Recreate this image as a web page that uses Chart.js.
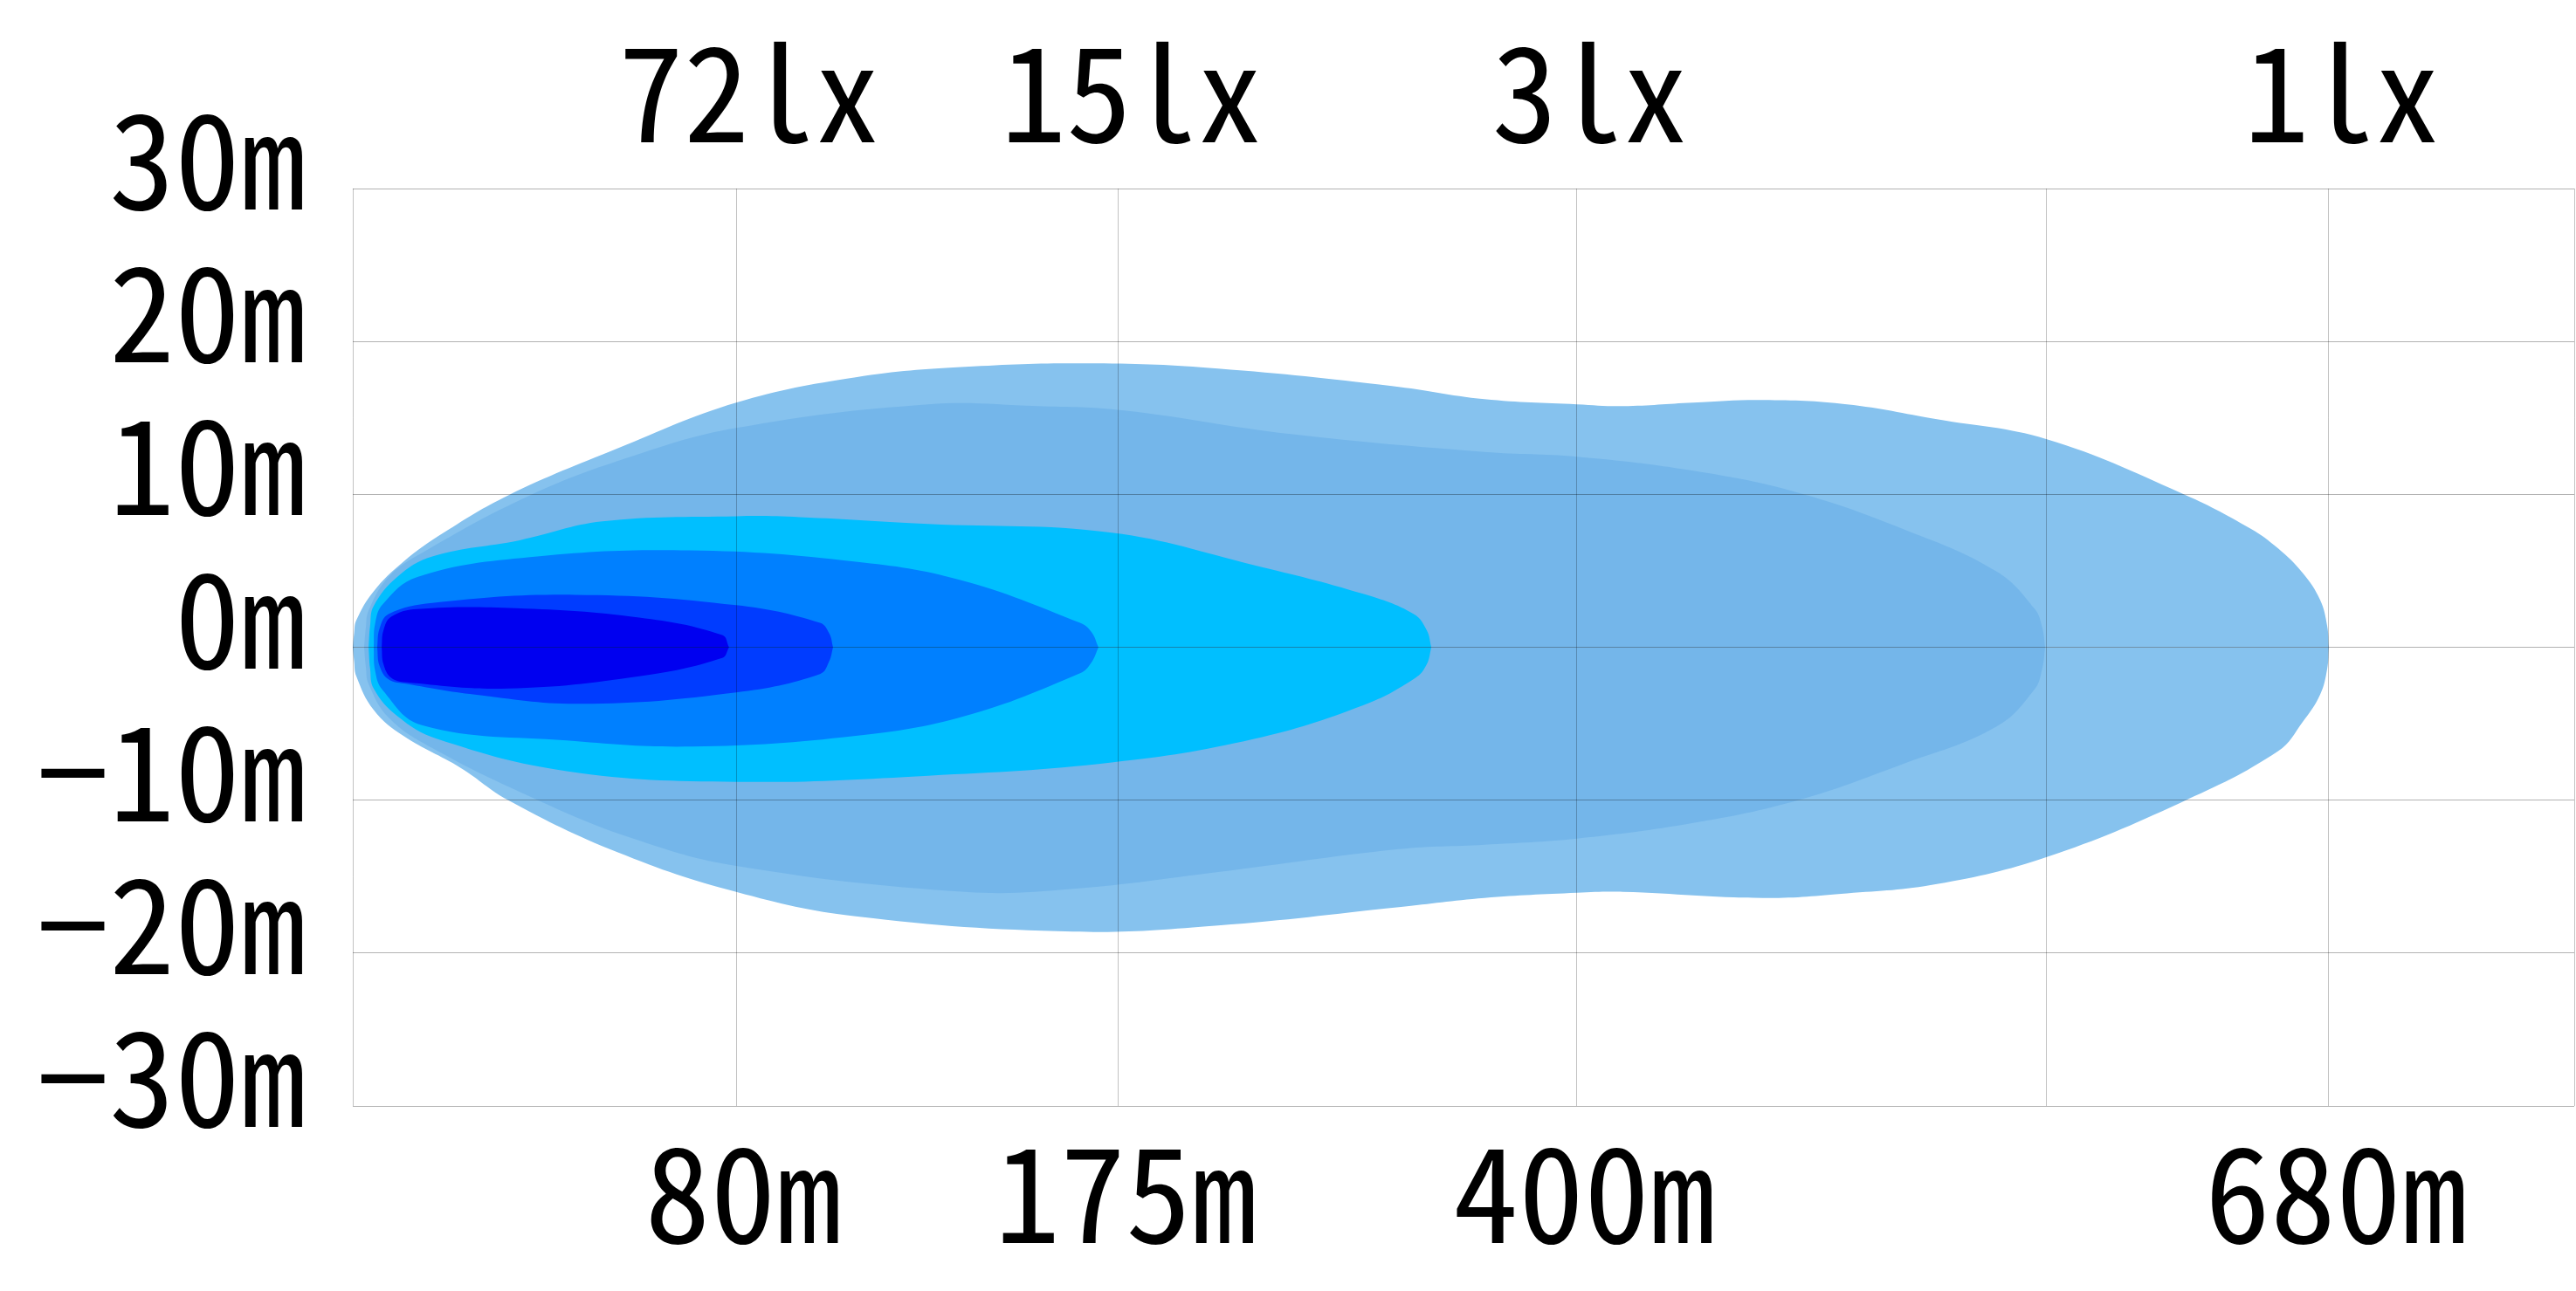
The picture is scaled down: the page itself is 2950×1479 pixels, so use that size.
<!DOCTYPE html>
<html>
<head>
<meta charset="utf-8">
<title>Beam pattern</title>
<script src="https://cdn.jsdelivr.net/npm/chart.js@4.4.1/dist/chart.umd.min.js"></script>
<style>
    html, body { margin: 0; padding: 0; background: #fff; }
    #beam-chart { display: block; }
</style>
</head>
<body>
<canvas id="beam-chart" width="2950" height="1479"></canvas>
<script>
// AXIS TICKS - x IS THE RELATIVE POSITION ACROSS THE PLOT (0-100), y IN METRES
var xTickValues = [0, 17.26, 34.47, 55.11, 76.22, 88.95, 100];
var distanceLabels = ['', '80m', '175m', '400m', '', '680m', ''];
var luxLabels = ['', '72lx', '15lx', '3lx', '', '1lx', ''];
var yTickValues = [-30, -20, -10, 0, 10, 20, 30];
var yTickLabels = ['−30m', '−20m', '−10m', '0m', '10m', '20m', '30m'];

// BEAM CONTOURS, [x, metres] - UPPER AND LOWER EDGE OF EACH ONE, OUTERMOST FIRST
var outerTop = [[0, 0], [0.06, 0.9], [0.16, 1.77], [0.94, 3.66], [2.28, 5.6], [4.09, 7.49], [7.0, 9.94], [11.91, 13.0], [17.26, 16.0], [22.64, 17.66], [27.56, 18.34], [33.41, 18.57], [38.95, 18.23], [46.78, 17.09], [50.94, 16.23], [55.11, 15.89], [57.19, 15.77], [60.34, 16.0], [63.48, 16.17], [67.26, 15.89], [71.31, 14.91], [76.26, 13.6], [82.27, 10.11], [85.42, 7.77], [86.67, 6.46], [87.77, 4.86], [88.56, 3.09], [88.88, 1.37], [88.95, 0]];
var outerBottom = [[0, 0], [0.06, -0.9], [0.16, -1.9], [0.94, -4.1], [2.28, -5.8], [4.87, -7.9], [7.0, -10.0], [11.91, -13.4], [17.26, -16.0], [22.64, -17.6], [32.43, -18.6], [38.95, -18.2], [47.09, -17.0], [50.94, -16.4], [55.11, -16.06], [57.19, -16.0], [63.48, -16.4], [67.26, -16.1], [71.31, -15.49], [76.26, -13.71], [82.27, -10.17], [86.67, -6.8], [87.77, -4.9], [88.56, -3.1], [88.88, -1.4], [88.95, 0]];

var secondTop = [[0.51, 0], [0.59, 1.3], [0.71, 2.4], [1.61, 4.6], [3.11, 6.17], [7.98, 9.94], [12.6, 12.5], [17.26, 14.34], [25.9, 15.89], [30.82, 15.77], [34.71, 15.49], [42.22, 13.94], [50.94, 12.77], [55.11, 12.46], [60.34, 11.54], [65.06, 10.11], [69.73, 7.77], [73.98, 4.97], [75.71, 2.51], [76.05, 1.3], [76.18, 0]];
var secondBottom = [[0.51, 0], [0.59, -1.3], [0.71, -2.4], [1.61, -4.6], [3.58, -6.6], [8.33, -10.0], [12.6, -12.5], [17.26, -14.3], [27.56, -16.0], [32.43, -15.8], [38.95, -14.7], [47.09, -13.2], [50.94, -12.91], [55.11, -12.51], [60.34, -11.49], [65.06, -10.0], [69.73, -7.66], [73.98, -5.2], [75.71, -2.74], [76.05, -1.4], [76.18, 0]];

var cyanTop = [[0.71, 0], [0.78, 1.4], [0.94, 2.7], [2.0, 4.6], [3.58, 5.94], [7.51, 7.0], [11.24, 8.23], [17.26, 8.57], [20.13, 8.51], [25.9, 8.06], [34.16, 7.49], [40.57, 5.37], [45.48, 3.49], [47.76, 2.17], [48.35, 1.1], [48.55, 0]];
var cyanBottom = [[0.71, 0], [0.78, -1.4], [0.94, -2.7], [2.0, -4.5], [3.8, -6.0], [9.63, -8.1], [17.26, -8.8], [25.9, -8.4], [34.16, -7.54], [40.57, -6.0], [45.48, -3.8], [47.84, -2.0], [48.35, -1.1], [48.55, 0]];

var midTop = [[0.94, 0], [1.0, 1.5], [1.34, 2.8], [2.91, 4.6], [7.98, 5.9], [15.17, 6.34], [22.64, 5.6], [27.35, 4.4], [32.74, 1.6], [33.25, 1.0], [33.57, 0]];
var midBottom = [[0.94, 0], [1.0, -1.5], [1.34, -2.8], [3.11, -5.1], [9.63, -6.1], [15.3, -6.5], [22.64, -5.8], [27.56, -4.5], [32.74, -1.7], [33.25, -1.0], [33.57, 0]];

var innerTop = [[1.1, 0], [1.2, 1.2], [1.61, 2.17], [3.58, 2.9], [10.0, 3.43], [17.26, 2.75], [21.03, 1.6], [21.45, 0.9], [21.62, 0]];
var innerBottom = [[1.1, 0], [1.2, -1.2], [1.61, -2.1], [2.44, -2.4], [5.5, -3.1], [10.26, -3.7], [17.26, -2.95], [21.03, -1.75], [21.45, -0.9], [21.62, 0]];

var coreTop = [[1.3, 0], [1.38, 1.1], [1.73, 2.0], [2.91, 2.5], [7.35, 2.55], [12.89, 1.94], [16.63, 0.8], [16.94, 0]];
var coreBottom = [[1.3, 0], [1.38, -1.1], [1.73, -2.0], [2.44, -2.3], [7.0, -2.7], [12.89, -1.9], [16.63, -0.7], [16.94, 0]];

(function () {
    'use strict';

    var FONT = "'Noto Sans Mono CJK SC', 'Noto Sans CJK SC', sans-serif";

    //EACH CONTOUR = TWO HALVES FILLED DOWN/UP TO THE 0m LINE
    var contours = [
        {top: outerTop, bottom: outerBottom, color: '#86c2ee'},
        {top: secondTop, bottom: secondBottom, color: '#74b6ea'},
        {top: cyanTop, bottom: cyanBottom, color: '#00bfff'},
        {top: midTop, bottom: midBottom, color: '#0080ff'},
        {top: innerTop, bottom: innerBottom, color: '#003cff'},
        {top: coreTop, bottom: coreBottom, color: '#0000f0'}
    ];

    var datasets = [];
    contours.forEach(function (c, i) {
        [c.top, c.bottom].forEach(function (half) {
            datasets.push({
                data: half.map(function (p) {
                    return {x: p[0], y: p[1]};
                }),
                backgroundColor: c.color,
                borderColor: c.color,
                borderWidth: 0,
                pointRadius: 0,
                fill: 'origin',
                tension: 0.4,
                order: contours.length - i
            });
        });
    });

    function setXTicks(scale) {
        scale.ticks = xTickValues.map(function (v) {
            return {value: v};
        });
    }

    //FIXED AXIS SIZES, NO EXTRA SIDE PADDING FROM THE LABELS
    function fitX(height) {
        return function (scale) {
            scale.height = height;
            scale.paddingLeft = 0;
            scale.paddingRight = 0;
        };
    }

    new Chart(document.getElementById('beam-chart'), {
        type: 'line',
        data: {datasets: datasets},
        options: {
            responsive: false,
            animation: false,
            layout: {padding: {left: 0, right: 2, top: 0, bottom: 0}},
            plugins: {
                legend: {display: false},
                tooltip: {enabled: false}
            },
            scales: {
                x: {
                    type: 'linear',
                    position: 'bottom',
                    min: 0,
                    max: 100,
                    afterBuildTicks: setXTicks,
                    afterFit: fitX(212),
                    ticks: {
                        autoSkip: false,
                        maxRotation: 0,
                        padding: 10,
                        labelOffset: 8,
                        color: '#000',
                        font: {family: FONT, size: 150},
                        callback: function (v, i) {
                            return distanceLabels[i];
                        }
                    },
                    grid: {color: 'rgba(0,0,0,0.24)', lineWidth: 1, drawTicks: false, z: 1},
                    border: {display: false}
                },
                xTop: {
                    type: 'linear',
                    axis: 'x',
                    position: 'top',
                    min: 0,
                    max: 100,
                    afterBuildTicks: setXTicks,
                    afterFit: fitX(216),
                    ticks: {
                        autoSkip: false,
                        maxRotation: 0,
                        padding: 20,
                        labelOffset: 15,
                        color: '#000',
                        font: {family: FONT, size: 150},
                        callback: function (v, i) {
                            return luxLabels[i];
                        }
                    },
                    grid: {display: false, drawTicks: false},
                    border: {display: false}
                },
                y: {
                    type: 'linear',
                    min: -30,
                    max: 30,
                    afterBuildTicks: function (scale) {
                        scale.ticks = yTickValues.map(function (v) {
                            return {value: v};
                        });
                    },
                    afterFit: function (scale) {
                        scale.width = 404;
                    },
                    ticks: {
                        autoSkip: false,
                        padding: 54,
                        labelOffset: -33,
                        color: '#000',
                        font: {family: FONT, size: 150},
                        callback: function (v) {
                            return yTickLabels[yTickValues.indexOf(v)];
                        }
                    },
                    grid: {color: 'rgba(0,0,0,0.3)', lineWidth: 1, drawTicks: false, z: 1},
                    border: {display: false}
                }
            }
        }
    });
})();
</script>
</body>
</html>
